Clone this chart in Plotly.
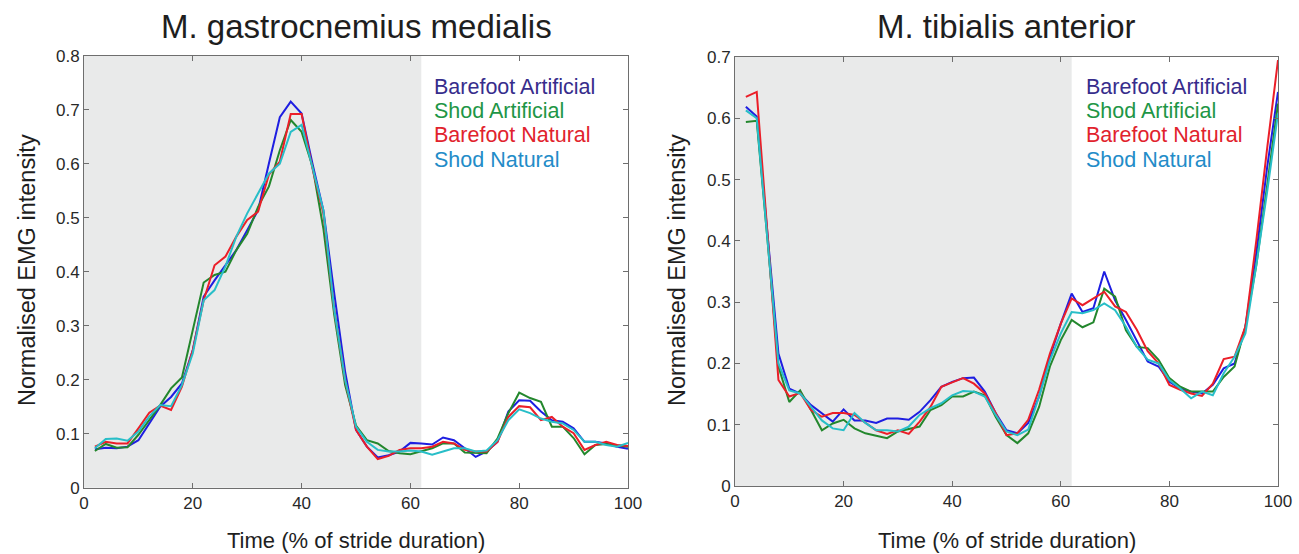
import plotly.graph_objects as go

# ---------------- data ----------------
time_pct = [2, 4, 6, 8, 10, 12, 14, 16, 18, 20, 22, 24, 26, 28, 30, 32, 34, 36, 38, 40,
            42, 44, 46, 48, 50, 52, 54, 56, 58, 60, 62, 64, 66, 68, 70, 72, 74, 76, 78, 80,
            82, 84, 86, 88, 90, 92, 94, 96, 98, 100]

series_names = ["Barefoot Artificial", "Shod Artificial", "Barefoot Natural", "Shod Natural"]

gm_barefoot_artificial = [0.071, 0.074, 0.073, 0.076, 0.088, 0.119, 0.150, 0.168, 0.193, 0.255,
                          0.354, 0.384, 0.412, 0.440, 0.477, 0.514, 0.601, 0.686, 0.715, 0.693,
                          0.600, 0.514, 0.360, 0.215, 0.107, 0.076, 0.056, 0.060, 0.067, 0.083,
                          0.082, 0.080, 0.093, 0.088, 0.073, 0.057, 0.067, 0.085, 0.141, 0.162,
                          0.161, 0.141, 0.125, 0.122, 0.110, 0.085, 0.085, 0.082, 0.076, 0.072]
gm_shod_artificial = [0.068, 0.081, 0.074, 0.075, 0.098, 0.125, 0.153, 0.184, 0.204, 0.292,
                      0.380, 0.394, 0.400, 0.440, 0.470, 0.520, 0.558, 0.625, 0.681, 0.659,
                      0.595, 0.480, 0.320, 0.190, 0.115, 0.088, 0.082, 0.068, 0.064, 0.062,
                      0.067, 0.073, 0.082, 0.082, 0.065, 0.065, 0.064, 0.091, 0.138, 0.176,
                      0.166, 0.159, 0.113, 0.113, 0.092, 0.062, 0.079, 0.081, 0.079, 0.076]
gm_barefoot_natural = [0.076, 0.085, 0.082, 0.082, 0.110, 0.139, 0.152, 0.144, 0.187, 0.255,
                       0.347, 0.412, 0.428, 0.465, 0.496, 0.511, 0.580, 0.604, 0.692, 0.692,
                       0.591, 0.508, 0.330, 0.200, 0.107, 0.076, 0.053, 0.059, 0.070, 0.073,
                       0.073, 0.076, 0.085, 0.082, 0.070, 0.067, 0.067, 0.085, 0.131, 0.151,
                       0.149, 0.125, 0.131, 0.113, 0.101, 0.070, 0.079, 0.085, 0.079, 0.077]
gm_shod_natural = [0.073, 0.090, 0.091, 0.087, 0.104, 0.132, 0.153, 0.151, 0.190, 0.249,
                   0.347, 0.366, 0.410, 0.465, 0.508, 0.545, 0.582, 0.600, 0.659, 0.672,
                   0.594, 0.514, 0.330, 0.200, 0.113, 0.085, 0.070, 0.067, 0.067, 0.069,
                   0.067, 0.061, 0.067, 0.073, 0.073, 0.067, 0.069, 0.088, 0.125, 0.145,
                   0.138, 0.128, 0.122, 0.119, 0.107, 0.085, 0.085, 0.079, 0.076, 0.083]

ta_barefoot_artificial = [0.619, 0.603, 0.410, 0.216, 0.159, 0.151, 0.132, 0.118, 0.105, 0.125,
                          0.107, 0.107, 0.103, 0.110, 0.110, 0.108, 0.121, 0.140, 0.162, 0.170,
                          0.176, 0.177, 0.154, 0.119, 0.091, 0.086, 0.103, 0.146, 0.211, 0.265,
                          0.314, 0.284, 0.290, 0.350, 0.303, 0.271, 0.238, 0.203, 0.195, 0.170,
                          0.159, 0.154, 0.151, 0.165, 0.192, 0.200, 0.260, 0.380, 0.520, 0.643]
ta_shod_artificial = [0.594, 0.596, 0.400, 0.195, 0.137, 0.156, 0.124, 0.091, 0.102, 0.108,
                      0.094, 0.086, 0.082, 0.078, 0.089, 0.093, 0.097, 0.124, 0.132, 0.146,
                      0.146, 0.154, 0.148, 0.113, 0.083, 0.070, 0.086, 0.129, 0.195, 0.238,
                      0.271, 0.259, 0.267, 0.322, 0.309, 0.254, 0.227, 0.225, 0.206, 0.176,
                      0.162, 0.154, 0.154, 0.154, 0.178, 0.195, 0.260, 0.360, 0.490, 0.624]
ta_barefoot_natural = [0.635, 0.643, 0.410, 0.173, 0.146, 0.152, 0.124, 0.113, 0.119, 0.119,
                       0.116, 0.103, 0.091, 0.085, 0.091, 0.085, 0.105, 0.129, 0.162, 0.169,
                       0.176, 0.167, 0.151, 0.119, 0.083, 0.086, 0.108, 0.157, 0.216, 0.265,
                       0.306, 0.295, 0.306, 0.317, 0.293, 0.284, 0.255, 0.220, 0.200, 0.165,
                       0.157, 0.151, 0.147, 0.167, 0.207, 0.211, 0.260, 0.400, 0.551, 0.695]
ta_shod_natural = [0.613, 0.600, 0.400, 0.200, 0.156, 0.151, 0.129, 0.107, 0.094, 0.091,
                   0.119, 0.103, 0.091, 0.091, 0.089, 0.097, 0.116, 0.127, 0.135, 0.148,
                   0.155, 0.154, 0.146, 0.116, 0.089, 0.083, 0.092, 0.146, 0.205, 0.249,
                   0.284, 0.282, 0.287, 0.298, 0.287, 0.260, 0.227, 0.206, 0.200, 0.173,
                   0.159, 0.143, 0.154, 0.148, 0.184, 0.211, 0.249, 0.360, 0.480, 0.608]

stance_end = 62  # end of shaded (stance) phase, % of stride

panel_titles = ["M. gastrocnemius medialis", "M. tibialis anterior"]
x_title = "Time (% of stride duration)"
y_title = "Normalised EMG intensity"
x_ticks = [0, 20, 40, 60, 80, 100]
gm_y_ticks = [0, 0.1, 0.2, 0.3, 0.4, 0.5, 0.6, 0.7, 0.8]
ta_y_ticks = [0, 0.1, 0.2, 0.3, 0.4, 0.5, 0.6, 0.7]

# ---------------- style ----------------
line_colors = ["rgb(30,30,225)", "rgb(35,135,45)", "rgb(235,30,40)", "rgb(40,190,200)"]
label_colors = ["rgb(55,45,140)", "rgb(30,150,70)", "rgb(225,35,45)", "rgb(35,140,200)"]
FONT = "Liberation Sans, Arial, sans-serif"
W, H = 1299, 554

fig = go.Figure()

gm_data = [gm_barefoot_artificial, gm_shod_artificial, gm_barefoot_natural, gm_shod_natural]
ta_data = [ta_barefoot_artificial, ta_shod_artificial, ta_barefoot_natural, ta_shod_natural]

for i, (name, ys) in enumerate(zip(series_names, gm_data)):
    fig.add_trace(go.Scatter(x=time_pct, y=ys, mode="lines", name=name,
                             line=dict(color=line_colors[i], width=2),
                             xaxis="x", yaxis="y", showlegend=False))
for i, (name, ys) in enumerate(zip(series_names, ta_data)):
    fig.add_trace(go.Scatter(x=time_pct, y=ys, mode="lines", name=name,
                             line=dict(color=line_colors[i], width=2),
                             xaxis="x2", yaxis="y2", showlegend=False))

# domains in paper fractions (pixel measurements of reference)
xd1 = [84 / W, 628 / W]
xd2 = [735 / W, 1278 / W]
yd1 = [(H - 487.7) / H, (H - 55.7) / H]
yd2 = [(H - 486) / H, (H - 57) / H]

axis_common = dict(showline=True, linecolor="rgb(110,110,110)", linewidth=1, mirror="ticks",
                   ticks="inside", ticklen=5, tickcolor="rgb(110,110,110)", showgrid=False,
                   zeroline=False, tickfont=dict(family=FONT, size=17, color="rgb(40,40,40)"),
                   automargin=False)

fig.update_layout(
    width=W, height=H,
    margin=dict(l=0, r=0, t=0, b=0),
    paper_bgcolor="white", plot_bgcolor="white",
    xaxis=dict(domain=xd1, range=[0, 100], tickvals=x_ticks, anchor="y", **axis_common),
    yaxis=dict(domain=yd1, range=[0, 0.8], tickvals=gm_y_ticks,
               ticktext=[f"{v:g}" for v in gm_y_ticks], anchor="x", **axis_common),
    xaxis2=dict(domain=xd2, range=[0, 100], tickvals=x_ticks, anchor="y2", **axis_common),
    yaxis2=dict(domain=yd2, range=[0, 0.7], tickvals=ta_y_ticks,
                ticktext=[f"{v:g}" for v in ta_y_ticks], anchor="x2", **axis_common),
)

# shaded stance phase
for xr, yr in [("x", "y domain"), ("x2", "y2 domain")]:
    fig.add_shape(type="rect", xref=xr, yref=yr, x0=0, x1=stance_end, y0=0, y1=1,
                  fillcolor="rgb(233,234,234)", line=dict(width=0), layer="below")

# titles and axis titles
centers = [(xd1[0] + xd1[1]) / 2, (xd2[0] + xd2[1]) / 2]
for cx, t in zip(centers, panel_titles):
    fig.add_annotation(text=t, x=cx, y=1 - 26 / H, xref="paper", yref="paper",
                       showarrow=False, xanchor="center", yanchor="middle",
                       font=dict(family=FONT, size=33, color="rgb(30,30,30)"))
    fig.add_annotation(text=x_title, x=cx, y=1 - 540 / H, xref="paper", yref="paper",
                       showarrow=False, xanchor="center", yanchor="middle",
                       font=dict(family=FONT, size=22, color="rgb(30,30,30)"))
for px in [27, 677]:
    fig.add_annotation(text=y_title, x=px / W, y=1 - 270 / H, xref="paper", yref="paper",
                       showarrow=False, xanchor="center", yanchor="middle", textangle=-90,
                       font=dict(family=FONT, size=23.5, color="rgb(30,30,30)"))

# legend labels (coloured text)
legend_y = [87, 111, 135, 160]
for lx in [432, 1084]:
    for i, name in enumerate(series_names):
        fig.add_annotation(text=name, x=lx / W, y=1 - legend_y[i] / H, xref="paper",
                           yref="paper", showarrow=False, xanchor="left", yanchor="middle",
                           font=dict(family=FONT, size=21.5, color=label_colors[i]))

fig.write_html("out.html", config={"displayModeBar": False},
               post_script="document.body.style.margin='0px';document.body.style.overflow='hidden';")
